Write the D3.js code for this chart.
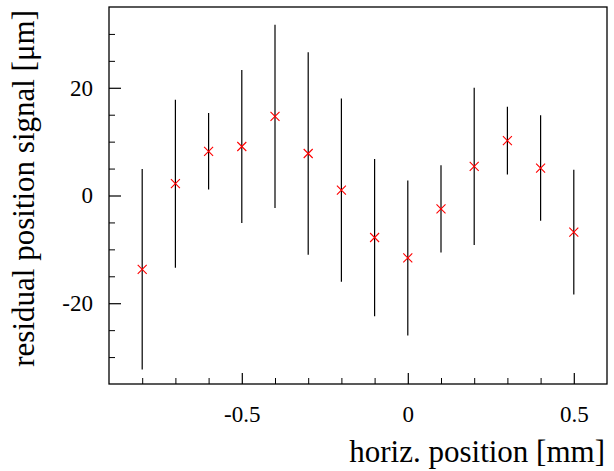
<!DOCTYPE html>
<html>
<head>
<meta charset="utf-8">
<script src="https://cdn.jsdelivr.net/npm/d3@7"></script>
<style>
  html, body { margin: 0; padding: 0; background: #fff; }
  svg { display: block; }
  text { font-family: "Liberation Serif", "DejaVu Serif", serif; fill: #000; }
</style>
</head>
<body>
<svg id="chart" width="614" height="471"></svg>
<script>
// Measured horizontal positions [mm]
const positions = [-0.8, -0.7, -0.6, -0.5, -0.4, -0.3, -0.2, -0.1, 0.0, 0.1, 0.2, 0.3, 0.4, 0.5];
// Residual position signal [µm]
const residuals = [-13.7, 2.2, 8.2, 9.1, 14.7, 7.8, 1.0, -7.8, -11.6, -2.5, 5.4, 10.2, 5.1, -6.8];
// Symmetric uncertainties [µm]
const errors = [18.6, 15.6, 7.1, 14.2, 17.0, 18.8, 17.0, 14.6, 14.4, 8.1, 14.6, 6.3, 9.8, 11.6];

const xMajorTicks = [-0.5, 0, 0.5];
const xTickLabels = ["-0.5", "0", "0.5"];
const xMinorTicks = [-0.8, -0.7, -0.6, -0.4, -0.3, -0.2, -0.1, 0.1, 0.2, 0.3, 0.4];
const yMajorTicks = [-20, 0, 20];
const yTickLabels = ["-20", "0", "20"];
const yMinorTicks = [-30, -25, -15, -10, -5, 5, 10, 15, 25, 30];

const xTitle = "horiz. position [mm]";
const yTitle = "residual position signal [\u03bcm]";

const frame = { left: 109, right: 607, top: 7, bottom: 384 };
const labelSize = 23;
const titleSize = 31;

const svg = d3.select("#chart");

const x = d3.scaleLinear().domain([-0.9, 0.6]).range([frame.left, frame.right]);
const y = d3.scaleLinear().domain([-35, 35]).range([frame.bottom, frame.top]);

// Minor ticks (no labels)
svg.append("g")
  .attr("transform", `translate(0,${frame.bottom})`)
  .call(d3.axisBottom(x).tickValues(xMinorTicks).tickSize(-6).tickFormat(""))
  .call(g => g.select(".domain").remove())
  .call(g => g.selectAll("line").attr("stroke", "#000").attr("stroke-width", 1));

svg.append("g")
  .attr("transform", `translate(${frame.left},0)`)
  .call(d3.axisLeft(y).tickValues(yMinorTicks).tickSize(-6).tickFormat(""))
  .call(g => g.select(".domain").remove())
  .call(g => g.selectAll("line").attr("stroke", "#000").attr("stroke-width", 1));

// Major ticks with labels
svg.append("g")
  .attr("transform", `translate(0,${frame.bottom})`)
  .call(d3.axisBottom(x).tickValues(xMajorTicks).tickSize(-11).tickPadding(22)
    .tickFormat((d, i) => xTickLabels[i]))
  .call(g => g.select(".domain").remove())
  .call(g => g.selectAll("line").attr("stroke", "#000").attr("stroke-width", 1.2))
  .call(g => g.selectAll("text").attr("font-size", labelSize)
    .style("font-family", "'Liberation Serif', serif").attr("fill", "#000"));

svg.append("g")
  .attr("transform", `translate(${frame.left},0)`)
  .call(d3.axisLeft(y).tickValues(yMajorTicks).tickSize(-12).tickPadding(16)
    .tickFormat((d, i) => yTickLabels[i]))
  .call(g => g.select(".domain").remove())
  .call(g => g.selectAll("line").attr("stroke", "#000").attr("stroke-width", 1.2))
  .call(g => g.selectAll("text").attr("font-size", labelSize)
    .style("font-family", "'Liberation Serif', serif").attr("fill", "#000"));

// Frame
svg.append("rect")
  .attr("x", frame.left).attr("y", frame.top)
  .attr("width", frame.right - frame.left).attr("height", frame.bottom - frame.top)
  .attr("fill", "none").attr("stroke", "#000").attr("stroke-width", 1.3);

// Data
const pts = positions.map((p, i) => ({ x: p, y: residuals[i], e: errors[i] }));

svg.append("g").selectAll("line")
  .data(pts).join("line")
  .attr("x1", d => x(d.x)).attr("x2", d => x(d.x))
  .attr("y1", d => y(d.y + d.e)).attr("y2", d => y(d.y - d.e))
  .attr("stroke", "#000").attr("stroke-width", 1.2);

const s = 4.5;
svg.append("g").selectAll("path")
  .data(pts).join("path")
  .attr("d", d => {
    const cx = x(d.x), cy = y(d.y);
    return `M${cx - s},${cy - s}L${cx + s},${cy + s}M${cx - s},${cy + s}L${cx + s},${cy - s}`;
  })
  .attr("stroke", "#ff0000").attr("stroke-width", 1.1).attr("fill", "none");

// Axis titles
svg.append("text")
  .attr("x", 605).attr("y", 462)
  .attr("text-anchor", "end")
  .attr("font-size", titleSize)
  .text(xTitle);

svg.append("text")
  .attr("transform", "translate(34,10) rotate(-90)")
  .attr("text-anchor", "end")
  .attr("font-size", titleSize)
  .text(yTitle);
</script>
</body>
</html>
